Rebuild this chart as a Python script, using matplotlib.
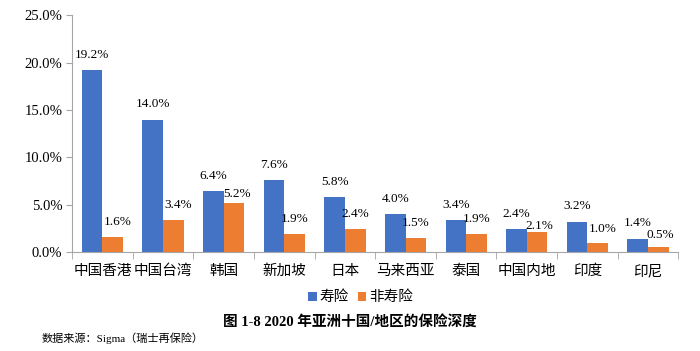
import matplotlib
matplotlib.use('Agg')
import matplotlib.pyplot as plt
import numpy as np
from matplotlib.ticker import FuncFormatter

plt.rcParams['font.family'] = ['Liberation Serif', 'Noto Sans CJK SC']

#------------------------------------------------
# data
#------------------------------------------------
regions = ['中国香港', '中国台湾', '韩国', '新加坡', '日本', '马来西亚', '泰国', '中国内地', '印度', '印尼']
life = [19.2, 14.0, 6.4, 7.6, 5.8, 4.0, 3.4, 2.4, 3.2, 1.4]
nonlife = [1.6, 3.4, 5.2, 1.9, 2.4, 1.5, 1.9, 2.1, 1.0, 0.5]
series_names = ['寿险', '非寿险']

blue = '#4472C4'
orange = '#ED7D31'
axis_gray = '#A6A6A6'

# label nudges (points) where the labels were dragged in the original
nonlife_nudge = {0: (3.5, 0), 1: (3.5, 0), 2: (2, -5), 7: (2, -6.5), 8: (3.5, -1), 9: (1.5, -2)}

#------------------------------------------------
# plot
#------------------------------------------------
fig = plt.figure(figsize=(7, 3.51), dpi=100)
ax = fig.add_axes([0.103, 0.282, 0.866, 0.674])

x = np.arange(len(regions))
w = 0.34
b1 = ax.bar(x - w/2, life, w, color=blue, label=series_names[0])
b2 = ax.bar(x + w/2, nonlife, w, color=orange, label=series_names[1])

for rect, v in zip(b1, life):
	ax.annotate('{:.1f}%'.format(v), (rect.get_x() + rect.get_width()/2, v),
	            xytext=(0, 11), textcoords='offset points',
	            ha='center', va='center', fontsize=9.5)
for i, (rect, v) in enumerate(zip(b2, nonlife)):
	dx, dy = nonlife_nudge.get(i, (0, 0))
	ax.annotate('{:.1f}%'.format(v), (rect.get_x() + rect.get_width()/2, v),
	            xytext=(dx, 11 + dy), textcoords='offset points',
	            ha='center', va='center', fontsize=9.5)

ax.set_xlim(-0.5, len(regions) - 0.5)
ax.set_ylim(0, 25)
ax.set_yticks(np.arange(0, 26, 5))
ax.yaxis.set_major_formatter(FuncFormatter(lambda v, p: '{:.1f}%'.format(v)))
ax.set_xticks(x)
ax.set_xticklabels(regions, fontsize=10.5)
ax.set_xticks(np.arange(-0.5, len(regions), 1), minor=True)
ax.tick_params(axis='x', which='major', length=0, pad=9)
ax.tick_params(axis='x', which='minor', length=5, color=axis_gray)
ax.tick_params(axis='y', length=4, color=axis_gray, labelsize=10.5, pad=3)

for s in ['top', 'right']:
	ax.spines[s].set_visible(False)
ax.spines['left'].set_color(axis_gray)
ax.spines['bottom'].set_color(axis_gray)

fig.legend(handles=[b1, b2], labels=series_names, loc='center', bbox_to_anchor=(0.515, 0.152),
           ncol=2, frameon=False, fontsize=10.5, handlelength=0.6, handleheight=0.6,
           handletextpad=0.2, columnspacing=0.6)

fig.text(0.5, 0.083, '图 1-8 2020 年亚洲十国/地区的保险深度', ha='center', va='center',
         fontsize=10.5, fontweight='bold')
fig.text(0.06, 0.035, '数据来源：Sigma（瑞士再保险）', ha='left', va='center', fontsize=8)

fig.savefig('out.png', dpi=100)
